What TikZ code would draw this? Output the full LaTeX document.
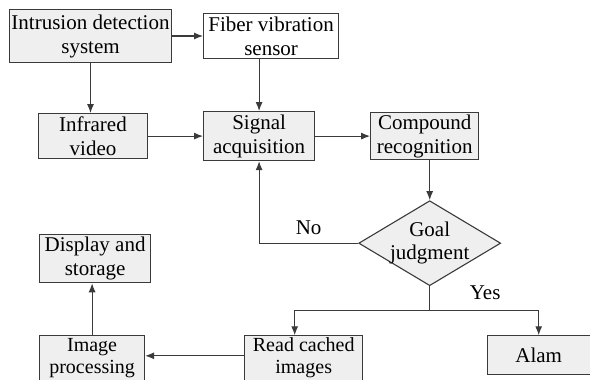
\documentclass[tikz,border=0pt]{standalone}
\usepackage{fontspec}
\setmainfont{Liberation Serif}
\usepackage{xcolor}
\usepackage{tikz}
\usetikzlibrary{arrows.meta,positioning,shapes.geometric}
\definecolor{edgegray}{RGB}{58,58,58}
\definecolor{boxfill}{RGB}{239,239,239}

\begin{document}
\begin{tikzpicture}[
      box/.style={draw=edgegray, line width=1.1pt, fill=boxfill,
                  align=center, inner sep=0pt, minimum width=110pt, minimum height=48pt,
                  font=\fontsize{21}{24}\selectfont},
      plainbox/.style={draw=edgegray, line width=1.1pt, fill=white,
                  align=center, inner sep=0pt, minimum width=110pt, minimum height=48pt,
                  font=\fontsize{21}{24}\selectfont},
      lowbox/.style={box, text depth=8pt, font=\fontsize{20}{22}\selectfont},
      judgebox/.style={diamond, aspect=1.67, draw=edgegray, line width=1.1pt,
                  fill=boxfill, align=center, inner sep=-3pt,
                  minimum width=142pt, minimum height=85pt, font=\fontsize{21}{23}\selectfont},
      lbl/.style={inner sep=0pt, font=\fontsize{21}{24}\selectfont},
      arrow/.style={-{Latex[length=9pt,width=7pt]}, line width=1.1pt, draw=edgegray}
    ]
      \useasboundingbox (0pt,0pt) rectangle (590pt,-380pt);

      % --- top part: sources into signal acquisition ---
      \node[box, minimum width=162pt, minimum height=53pt] (intr) at (90.5pt,-36pt) {Intrusion detection\\system};
      \node[plainbox, minimum width=135pt, minimum height=45pt, right=31pt of intr] (fiber) {Fiber vibration\\sensor};
      \node[box, minimum width=111pt, minimum height=49pt, below=52pt of fiber.south west, anchor=north west] (signal) {Signal\\acquisition};
      \node[box, minimum width=109pt, minimum height=45pt, left=55pt of signal] (infra) {Infrared\\video};
      \node[box, minimum width=108pt, minimum height=47pt, right=55pt of signal] (comp) {Compound\\recognition};

      \draw[arrow] (intr) -- (fiber);
      \draw[arrow] (intr.south) -- (intr.south |- infra.north);
      \draw[arrow] (signal.north |- fiber.south) -- (signal.north);
      \draw[arrow] (infra) -- (signal);
      \draw[arrow] (signal) -- (comp);

      % --- decision ---
      \node[judgebox, below=40pt of comp, xshift=5pt] (goal) {Goal\\judgment};
      \draw[arrow] (goal.north |- comp.south) -- (goal.north);
      \draw[arrow] (goal.west) -| node[lbl, above=8pt, pos=0.25] (nolbl) {No} (signal.south);

      % --- yes branch ---
      \coordinate[below=24pt of goal.south] (split);
      \node[lowbox, minimum width=118pt, minimum height=48pt, below=49pt of goal, xshift=-126pt] (read) {Read cached\\images};
      \node[box, minimum width=103pt, minimum height=39pt, below=49pt of goal, xshift=109pt] (alam) {Alam};
      \node[lowbox, minimum width=105pt, minimum height=48pt, left=99pt of read] (imgp) {Image\\processing};
      \node[box, minimum width=111pt, minimum height=48pt, above=52pt of imgp.north west, anchor=south west] (disp) {Display and\\storage};
      \node[lbl, above right=10pt and 40pt of split] (yeslbl) {Yes};

      \draw[line width=1.1pt, draw=edgegray] (goal.south) -- (split);
      \draw[arrow] (split) -| ([xshift=-9pt]read.north);
      \draw[arrow] (split) -| (alam.north);
      \draw[arrow] ([yshift=4pt]read.west) -- ([yshift=4pt]read.west -| imgp.east);
      \draw[arrow] (imgp.north) -- (imgp.north |- disp.south);
    \end{tikzpicture}
\end{document}
